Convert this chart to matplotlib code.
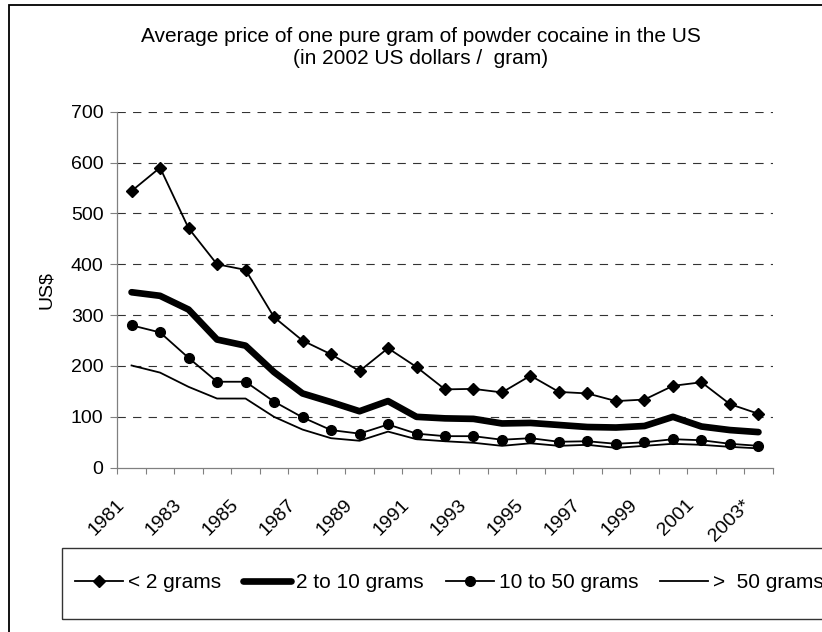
import matplotlib
matplotlib.use("Agg")
import matplotlib.pyplot as plt
from matplotlib.patches import Rectangle
from matplotlib.transforms import ScaledTranslation

plt.rcParams['font.family'] = ['Liberation Sans', 'DejaVu Sans']

years = ["1981", "1982", "1983", "1984", "1985", "1986", "1987", "1988", "1989", "1990",
         "1991", "1992", "1993", "1994", "1995", "1996", "1997", "1998", "1999", "2000",
         "2001", "2002", "2003*"]
lt2 = [544, 590, 471, 400, 389, 296, 250, 223, 190, 235, 198, 154, 155, 148, 181, 149,
       146, 131, 134, 161, 168, 125, 106]
g2_10 = [345, 338, 311, 252, 240, 188, 146, 129, 111, 131, 100, 97, 96, 87, 88, 84,
         80, 79, 82, 100, 81, 74, 70]
g10_50 = [280, 266, 216, 169, 169, 130, 99, 74, 67, 85, 67, 62, 62, 55, 58, 51,
          52, 47, 50, 56, 54, 47, 43]
gt50 = [201, 187, 159, 136, 136, 100, 75, 58, 53, 71, 56, 52, 49, 43, 48, 43,
        45, 39, 43, 47, 45, 41, 38]
series_names = ["< 2 grams", "2 to 10 grams", "10 to 50 grams", ">  50 grams"]
yticks = [0, 100, 200, 300, 400, 500, 600, 700]

W, H = 822, 632
fig = plt.figure(figsize=(W / 100, H / 100), dpi=100)
ax = fig.add_axes([117.3 / W, 1 - 467.7 / H, (772.7 - 117.3) / W, (467.7 - 111.7) / H])

x = list(range(len(years)))
ax.plot(x, lt2, color='black', lw=1.3, marker='D', ms=6, label=series_names[0], zorder=5)
ax.plot(x, g2_10, color='black', lw=4.8, solid_capstyle='round', solid_joinstyle='round',
        label=series_names[1], zorder=4)
ax.plot(x, g10_50, color='black', lw=1.3, marker='o', ms=7, label=series_names[2], zorder=3)
ax.plot(x, gt50, color='black', lw=1.3, label=series_names[3], zorder=2)

ax.set_xlim(-0.5, len(years) - 0.5)
ax.set_ylim(0, 700)
ax.set_yticks(yticks)
ax.set_yticklabels([str(v) for v in yticks], fontsize=14)
for v in yticks[1:]:
    ax.axhline(v, color='#333333', lw=0.8, ls=(0, (7.5, 6.5)), zorder=1)

lab_idx = list(range(0, len(years), 2))
ax.set_xticks(lab_idx)
ax.set_xticklabels([years[i] for i in lab_idx], fontsize=14, rotation=45,
                   ha='right', va='center', rotation_mode='anchor')
ax.set_xticks([i - 0.5 for i in range(len(years) + 1)], minor=True)
ax.tick_params(axis='x', which='major', length=0, pad=25)
ax.tick_params(axis='x', which='minor', length=4.5, color='#808080', width=0.8)
ax.tick_params(axis='y', length=5, pad=5, color='#808080', width=0.8)
for lab in ax.get_xticklabels():
    lab.set_transform(lab.get_transform() + ScaledTranslation(-0.10, 0, fig.dpi_scale_trans))

for s in ['top', 'right']:
    ax.spines[s].set_visible(False)
for s in ['left', 'bottom']:
    ax.spines[s].set_color('#808080')
    ax.spines[s].set_linewidth(0.9)

ax.set_ylabel("US$", fontsize=14)
ax.yaxis.set_label_coords(-0.095, 0.5)

fig.text(421 / W, 1 - 36 / H, "Average price of one pure gram of powder cocaine in the US",
         ha='center', va='center', fontsize=15)
fig.text(421 / W, 1 - 59 / H, "(in 2002 US dollars /  gram)",
         ha='center', va='center', fontsize=15)

# outer frame
fig.add_artist(Rectangle((9 / W, -0.1), 1.0, 1 - 5 / H + 0.1, transform=fig.transFigure,
                         fill=False, edgecolor='black', lw=1.3))
# legend box
fig.add_artist(Rectangle((62 / W, 1 - 619 / H), 1.0, (619 - 547.7) / H, transform=fig.transFigure,
                         fill=False, edgecolor='#333333', lw=1.0))

handles, labels = ax.get_legend_handles_labels()
leg = fig.legend(handles, labels, loc='center left', bbox_to_anchor=(75 / W, 1 - 583 / H),
                 ncol=4, frameon=False, fontsize=15, numpoints=1, handlelength=2.3,
                 handletextpad=0.25, columnspacing=1.05, borderaxespad=0, borderpad=0)

fig.savefig("out.png", dpi=100)
